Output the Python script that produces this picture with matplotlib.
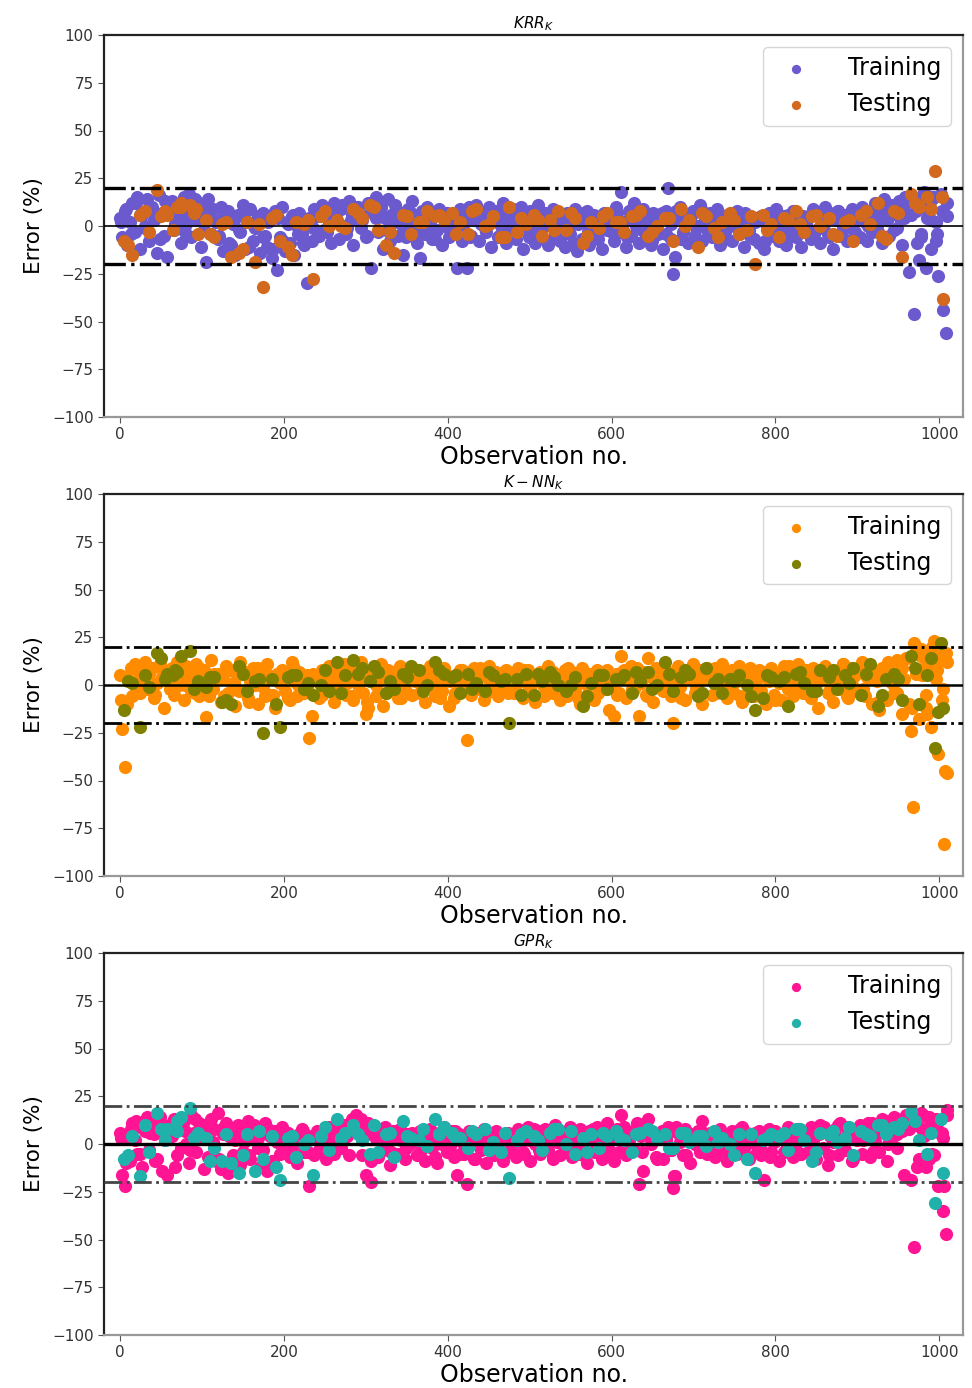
import numpy as np
import matplotlib
matplotlib.use("Agg")
import matplotlib.pyplot as plt

# ---- data: prediction error (%) per observation ----
# *_train   : every 3rd observation (0, 3, 6, ... 1008)
# *_train_b : every 6th observation starting at 1 (1, 7, ... 1009)
# *_test    : every 10th observation (5, 15, ... 1005)
# *_test_b  : every 20th observation (10, 30, ... 990)
# *_x_obs / *_x_err : a few extra points (outliers, dense spots)

krr_train = [
    4, -6, 8, -10, 2, 12, -3, 15, -12, 6, 0, 14, -8, 10, 3, -14, 16, 7, -5, -16,
    9, 13, -2, 11, 5, -9, 15, 1, 17, -6, 10, 3, 12, -11, 7, -19, 14, -4, 9, 2,
    -7, 10, -13, 4, 8, -10, 1, -15, 6, -3, 11, -12, 2, 9, -8, -1, 5, -14, 7, -5,
    -11, 3, -17, 8, -23, -6, 10, -13, 2, -9, 5, -15, 0, 7, -4, -10, -30, 4, -8, 9,
    6, -5, 11, -2, 8, 1, -9, 12, 4, -7, 9, 0, -4, 13, 3, -10, 7, 10, -1, 5,
    -6, 12, -22, 8, 15, -3, 10, -12, 4, 14, -8, 2, 11, -5, 7, -15, 0, 9, -2, 13,
    3, -9, -17, 8, -4, 10, 1, -7, 6, -2, 9, -10, 4, 7, -6, 2, 5, -22, 0, -8,
    7, -22, 10, -5, 3, 11, -8, 1, 6, -3, 9, -11, 4, 8, -6, 0, 12, -9, 5, -2,
    9, -7, 2, 10, -12, 5, -3, 8, 0, -9, 11, -5, 4, 7, -10, 1, 9, -4, 6, -8,
    3, -11, 7, -4, 1, 9, -13, 5, -7, 2, 8, -10, 0, 6, -5, 4, -12, 7, -2, 3,
    6, -8, 10, -3, 18, 2, -11, 8, -5, 12, 0, -9, 4, 9, -6, 1, -10, 7, 3, -4,
    5, -12, 8, 20, -7, -25, -16, 4, 10, -3, 6, -9, 2, 8, -5, 0, 11, -8, 3, -2,
    7, -6, 2, 9, -10, 4, -3, 6, 0, -8, 5, 8, -4, 1, -11, 6, -2, 3, -7, 4,
    -9, 5, -12, 1, 7, -5, 3, 9, -8, 0, 4, -10, 6, -3, 8, -6, 2, -11, 5, 1,
    4, -7, 9, -2, 6, -9, 1, 10, -4, 7, -12, 3, 8, -5, 0, 6, -8, 2, 9, -3,
    5, -6, 10, 2, -8, 8, -3, 12, 0, 6, -9, 14, 3, -5, 11, -2, 7, 13, -10, 4,
    12, -24, 16, -46, 8, 14, -6, 18, -22, 10, 3, 15, -8, -26, 17, -44, -56,
]
krr_train_b = [
    2, 9, -4, 12, 6, -1, 10, 4, -7, 13, 8, 1, 11, -3, 7, 14, 5, -2, 10, 3,
    -5, 6, -9, 3, -2, 7, -11, 0, 5, -6, 2, -12, 4, -8, 1, 6, -4, -9, 3, -1,
    5, 9, -3, 7, 2, 11, -1, 6, 10, 3, -5, 8, 4, 12, -2, 6, 9, 1, -6, 7,
    1, -4, 6, 3, -7, 8, 0, 5, -3, 9, 2, -6, 7, 4, -1, 10, 3, -5, 6, 1,
    4, -2, 7, -6, 3, 8, 0, -8, 5, 2, -4, 6, -9, 1, 7, -3, 4, -7, 2, 5,
    -3, 7, 1, -6, 9, 4, -2, 6, -8, 3, 7, -4, 1, 8, -7, 3, 5, -1, 9, 2,
    -4, 5, 1, -7, 6, 3, -2, 7, -5, 2, 4, -8, 6, 0, -3, 5, -6, 8, 1, -2,
    5, -4, 7, 1, -6, 4, 8, -2, 6, -7, 3, 9, 0, 5, -3, 10, 4, 8, -1, 11,
    6, 13, -9, 10, 4, 15, -4, 8, 12,
]
krr_train_x_obs = [944, 952, 958, 965, 972, 978, 986, 991, 996, 1004, 1010, 975, 990]
krr_train_x_err = [10, 4, 15, 6, 12, -4, 9, 14, 2, 8, 5, -18, -12]

krr_test = [
    -8, -15, 6, -3, 19, 8, -2, 10, 11, -4, 3, -6, 1, -16, -14, 2, -19, -32, 4, -8,
    -11, 2, 1, -28, 5, 0, 3, -1, 9, 4, 11, -2, -10, -14, 6, -4, 2, 8, 5, 3,
    7, 2, -4, 9, 0, 5, -6, 10, -3, 1, 6, -5, 3, 8, -2, 4, -9, 2, -1, 7,
    2, -3, 5, 8, -5, 0, 4, -8, 9, 3, -11, 5, -1, 2, 7, -4, -2, -20, 6, 1,
    -6, 3, 8, -3, 5, 0, 4, -5, 2, -8, 6, 1, 12, -7, 8, -16, 17, 10, 15, 29, -38,
]
krr_test_b = [
    -10, 8, 5, 10, 7, -4, 2, -12, 1, 6, -15, 3, 8, 0, 7, 10, -3, 5, 2, 6,
    -4, 8, 1, -6, 4, 3, -2, 7, -5, 5, 2, 6, -3, 4, 0, 7, -6, 3, 5, -2,
    4, 1, 6, -4, 3, 8, -5, 7, 12, 9,
]
krr_test_x_obs = [58, 75, 93, 1003]
krr_test_x_err = [6, 12, 9, 15]

knn_train = [
    5, -23, -43, -10, 2, -6, 11, 8, -4, 3, 12, -2, 6, 9, -7, 1, 10, 4, -12, 7,
    3, 9, -5, 12, 0, 6, -8, 10, 2, -3, 7, 11, -6, 4, 8, -17, 1, 13, -2, 5,
    6, -9, 3, 10, -4, 8, 1, -11, 5, 12, -3, 7, -7, 2, 9, 0, -10, 4, 8, -6,
    11, -5, 3, -12, 6, 1, 8, -3, 4, -8, 12, 2, -6, 7, 0, -4, 5, -28, -16, 3,
    4, -7, 8, 1, -3, 10, 5, -9, 2, 7, -1, 11, -5, 3, 6, -8, 9, 0, 12, -4,
    -15, -12, 6, 9, -6, 2, 11, -11, 4, 8, -3, 1, 7, -7, 10, 3, -2, 5, 9, -5,
    2, 8, -4, 6, -9, 1, 10, 4, -6, 7, 0, -3, 9, 5, -11, 3, -7, 6, 1, 8,
    3, -29, 7, -5, 9, 1, -2, 6, -8, 4, 10, -3, 2, 7, -6, 5, 0, 8, -4, 3,
    6, -3, 9, 2, -7, 4, 8, -1, 5, -9, 3, 7, 0, -5, 10, 2, -4, 6, 1, -8,
    4, 8, -6, 2, 7, -3, 5, -10, 9, 1, -5, 6, 3, -8, 8, 0, 4, -2, 7, -13,
    2, -16, 6, -4, 15, 8, -7, 3, 10, -2, 5, -16, 1, 7, -5, 14, 4, -9, 9, 0,
    6, -3, 8, 2, -6, -20, 4, 10, -1, 5, -8, 7, 3, 11, -4, 1, 8, -10, 5, 9,
    3, -5, 9, 6, -2, 11, 0, -7, 5, 8, -4, 2, 10, -9, 4, 7, -1, 6, -6, 3,
    8, -3, 5, -10, 2, 9, -5, 6, 1, -8, 10, 4, -2, 7, -6, 3, 11, 0, -4, 8,
    5, -7, 9, 2, -12, 6, 3, 10, -4, 7, -9, 1, 8, -2, 11, 4, -6, 9, 0, 5,
    -3, 8, 12, -6, 4, 10, -10, 6, 2, -13, 9, 5, -8, 11, 1, -4, 13, 7, -15, 3,
    14, -10, -24, 22, 6, -18, 19, 9, -5, 12, -22, 23, 3, -36, 15, -2, 17,
]
knn_train_b = [
    -8, 4, 9, -3, 6, 1, 8, -5, 11, 3, -2, 7, 10, 0, 5, -4, 9, 2, -6, 6,
    3, -6, 8, 1, -3, 6, -9, 4, 9, -1, 5, -5, 2, 7, -7, 10, 0, 4, -3, 6,
    2, -5, 7, 4, -2, 9, 1, -6, 6, 3, -9, 8, 0, 5, -4, 7, 2, -7, 4, 8,
    5, -3, 7, 0, 4, -7, 6, 2, -4, 8, 1, -2, 5, 9, -5, 3, 6, -1, 7, 2,
    -4, 5, 8, -2, 3, 6, -6, 1, 7, 4, -3, 9, 2, -7, 5, 0, 6, -4, 3, 8,
    1, -5, 7, 4, -2, 9, 3, -6, 5, 0, 8, -3, 6, 2, -7, 4, 9, -1, 5, 3,
    6, -4, 2, 8, -1, 5, -6, 3, 9, 0, -3, 7, 4, -8, 6, 1, 10, -2, 5, 3,
    -5, 7, 2, 9, -3, 6, 0, 11, -7, 4, 8, -2, 10, 3, -9, 6, 12, 1, -4, 9,
    14, -12, 18, 5, -15, 20, 8, -8, 12,
]
knn_train_x_obs = [968, 1006, 1007, 1010, 972, 978, 984, 1004, 995, 987]
knn_train_x_err = [-64, -83, -45, -46, 20, 15, -12, 16, 10, 18]

knn_test = [
    -13, 1, -22, -1, 17, 3, 5, 15, 18, 2, -1, 4, -9, -10, 10, -3, 2, -25, 3, -22,
    4, 5, -2, -5, 0, -3, 12, 5, 13, 9, 2, 7, -4, -2, 6, 10, 8, 0, 12, 6,
    4, -4, 6, 1, -3, 5, 2, -20, 3, 6, -5, 2, 7, 0, -3, 4, -11, 1, 5, -2,
    3, 5, -4, 2, 7, 0, 12, -3, 4, 6, -6, 9, 1, -4, 3, 5, 0, -13, -7, 4,
    2, -11, 6, 1, -3, 8, 4, -2, 5, 9, -5, 11, -11, 3, 6, -8, 15, -10, 5, -33, -12,
]
knn_test_b = [
    2, 5, 14, 7, -2, 4, -8, 6, 3, -10, 5, 1, 8, -4, 6, 10, 2, 4, -3, 8,
    5, -2, 7, 3, -5, 6, 4, 0, -6, 5, 3, 7, -2, 6, 8, -4, 3, 2, -6, 5,
    4, 7, -3, 8, 1, 6, -5, 3, 9, 14,
]
knn_test_x_obs = [1002, 998, 57, 67]
knn_test_x_err = [22, -14, 6, 8]

gpr_train = [
    6, -16, -22, 3, -9, 11, 2, -5, 9, -12, 7, 14, -3, 10, 5, -8, 12, -14, 8, -16,
    10, 4, 13, -6, 8, -2, 12, 0, -10, 15, 6, -4, 11, 3, -13, 9, -7, 13, 1, -9,
    16, -13, 5, 11, -15, 8, -6, 2, 10, -11, -4, 7, 12, -8, 3, 9, -2, -12, 6, 11,
    -14, 4, -9, 7, 1, -5, 9, -2, 6, -7, 3, 0, -10, 5, 8, -4, 2, -22, 4, -6,
    7, -3, 5, 1, -8, 9, 3, -5, 6, 0, -2, 10, 4, -6, 8, 12, 15, 9, 13, 6,
    -16, 11, -20, 8, 3, -7, 6, -3, 9, 1, -11, 7, 4, -5, 8, 2, -8, 5, 0, 6,
    3, -6, 7, 1, -9, 5, 8, -2, 4, -10, 6, 0, 9, -4, 2, 7, -7, -16, 5, 1,
    -5, -21, 7, 3, -8, 6, 1, -3, 8, -10, 4, 2, -6, 7, 0, 5, -9, 3, 6, -2,
    4, -7, 8, 1, -4, 6, 9, -9, 3, 0, 7, -5, 2, 8, -3, 5, -8, 10, 1, -6,
    6, -2, 4, 9, -7, 3, -5, 8, 0, 5, -10, 7, 2, -4, 9, 1, -8, 6, 11, -3,
    3, -9, 7, -4, 15, 9, -6, 2, 5, -3, 8, -21, 4, -14, 10, 13, 0, 6, -7, 3,
    5, -8, 2, 9, -3, -23, -17, 6, 1, -6, 8, 3, -10, 5, 0, 7, -4, 12, 2, -5,
    6, 1, -7, 4, 8, -3, 2, -9, 5, 7, 0, -5, 3, 9, -2, 6, -8, 1, 4, -4,
    7, -6, -19, 3, 8, -4, 1, 6, -9, 4, 2, -3, 9, 5, -7, 0, 8, -5, 3, 6,
    -4, 9, 2, -8, 6, 10, -2, 7, -11, 4, 1, 8, -6, 11, 3, -3, 9, 5, -9, 7,
    2, 10, -5, 8, 4, -7, 11, 1, 9, -4, 13, 6, -9, 12, 3, 14, -2, 10, 7, -16,
    15, 8, -19, -54, 12, -8, 16, 4, -12, 14, 10, -6, 13, -22, 5, -35, -47,
]
gpr_train_b = [
    3, -10, 8, 12, -5, 10, 6, -9, 14, 2, 9, -12, 11, 7, -3, 13, 5, 10, -7, 8,
    -8, 9, 4, -12, 7, 1, -6, 10, 3, -3, 8, -9, 5, 0, 6, -5, 2, 7, -4, 3,
    6, -4, 2, 8, -1, 10, 4, 13, 7, -6, 5, -9, 3, 8, 1, -4, 7, 2, -2, 5,
    4, -3, 6, 1, -7, 5, 2, -1, 7, -5, 3, 6, -8, 4, 1, -3, 6, 2, -6, 5,
    3, 6, -5, 2, 8, -3, 5, 0, -7, 6, 3, -2, 7, 1, -6, 4, 8, -4, 2, 6,
    -5, 8, 3, -2, 6, 11, -4, 5, 1, -8, 7, 4, -3, 9, 2, -6, 5, 0, 7, -2,
    4, -5, 7, 1, -3, 5, 8, -6, 2, 6, -2, 4, -7, 7, 3, -4, 8, 1, -5, 6,
    7, -3, 5, 9, -6, 3, 10, -1, 6, -8, 8, 2, 11, -4, 7, 12, 0, 9, 5, 13,
    10, 16, -12, 8, 14, -5, 11, 6, 15,
]
gpr_train_x_obs = [1010, 972, 980, 988, 994, 1004, 676, 1006]
gpr_train_x_err = [18, 10, 15, -8, 12, 3, -17, -22]

gpr_test = [
    -8, 4, -17, -4, 16, 2, 8, 14, 19, 6, 3, -2, -9, -10, -15, 5, -14, -8, 4, -19,
    3, -7, 0, -16, 4, -3, 13, 6, 10, 2, -5, -4, 5, -7, 12, 3, 2, -1, 13, 9,
    6, 3, -2, 5, 8, 1, -4, -18, 2, 7, 4, -3, 6, 8, 0, -5, 3, 5, -2, 4,
    7, 2, -4, 6, 8, 3, 5, -2, 6, 1, 4, -1, 7, 3, 0, 5, -8, -15, 2, 5,
    4, -3, 8, 2, -9, 6, 5, 1, 3, -6, 7, 4, 10, 5, 9, 11, 17, 2, -5, -31, -15,
]
gpr_test_b = [
    -6, 10, 8, 12, 3, -9, 5, -6, 7, -12, 4, 2, 9, 3, 5, 10, 6, 4, 8, 5,
    3, 7, -3, 6, 5, 2, 8, 7, -4, 6, 3, 5, 7, -2, 6, 4, 1, -6, 5, 3,
    6, 8, -4, 7, 9, 5, 10, 8, 12, 6,
]
gpr_test_x_obs = [1002, 57, 70]
gpr_test_x_err = [13, 8, 7]

panels = [
    dict(title=r"$KRR_K$", train=krr_train, train_b=krr_train_b,
         train_xo=krr_train_x_obs, train_xe=krr_train_x_err,
         test=krr_test, test_b=krr_test_b, test_xo=krr_test_x_obs, test_xe=krr_test_x_err,
         c_train="#6A5ACD", c_test="#D2691E", zlw=1.2, dlw=2.4, dcol="black"),
    dict(title=r"$K-NN_K$", train=knn_train, train_b=knn_train_b,
         train_xo=knn_train_x_obs, train_xe=knn_train_x_err,
         test=knn_test, test_b=knn_test_b, test_xo=knn_test_x_obs, test_xe=knn_test_x_err,
         c_train="#FF8C00", c_test="#808000", zlw=1.8, dlw=2.0, dcol="black"),
    dict(title=r"$GPR_K$", train=gpr_train, train_b=gpr_train_b,
         train_xo=gpr_train_x_obs, train_xe=gpr_train_x_err,
         test=gpr_test, test_b=gpr_test_b, test_xo=gpr_test_x_obs, test_xe=gpr_test_x_err,
         c_train="#FF1493", c_test="#20B2AA", zlw=2.4, dlw=2.0, dcol="#444444"),
]

fig = plt.figure(figsize=(9.72, 13.88), dpi=100)
tops = [35, 494, 953]
W, H = 972.0, 1388.0

for p, top in zip(panels, tops):
    ax = fig.add_axes([104 / W, 1 - (top + 382) / H, 859 / W, 382 / H])

    tr_obs = np.concatenate([np.arange(len(p["train"])) * 3,
                             1 + np.arange(len(p["train_b"])) * 6, p["train_xo"]])
    tr_err = np.concatenate([p["train"], p["train_b"], p["train_xe"]])
    te_obs = np.concatenate([5 + np.arange(len(p["test"])) * 10,
                             10 + np.arange(len(p["test_b"])) * 20, p["test_xo"]])
    te_err = np.concatenate([p["test"], p["test_b"], p["test_xe"]])

    ax.scatter(tr_obs, tr_err, s=90, color=p["c_train"], linewidths=0, label="Training", zorder=2)
    ax.scatter(te_obs, te_err, s=90, color=p["c_test"], linewidths=0, label="Testing", zorder=3)

    ax.axhline(0, color="black", lw=p["zlw"], zorder=4)
    ax.axhline(20, color=p["dcol"], lw=p["dlw"], ls="-.", zorder=4)
    ax.axhline(-20, color=p["dcol"], lw=p["dlw"], ls="-.", zorder=4)

    ax.set_xlim(-19.5, 1029)
    ax.set_ylim(-100, 100)
    ax.set_yticks([-100, -75, -50, -25, 0, 25, 50, 75, 100])
    ax.set_xticks([0, 200, 400, 600, 800, 1000])
    ax.tick_params(labelsize=11, labelcolor="#333333", color="#555555", length=4)

    for side in ["left", "top"]:
        ax.spines[side].set_color("#222222")
        ax.spines[side].set_linewidth(1.6)
    for side in ["right", "bottom"]:
        ax.spines[side].set_color("#999999")
        ax.spines[side].set_linewidth(1.6)

    ax.set_title(p["title"], fontsize=11, pad=5)
    ax.set_xlabel("Observation no.", fontsize=17, labelpad=2)
    ax.set_ylabel("Error (%)", fontsize=15.5, labelpad=6)

    leg = ax.legend(loc="upper right", fontsize=17, handletextpad=1.2, markerscale=0.7,
                    borderaxespad=0.5, fancybox=True)
    leg.get_frame().set_edgecolor("#cccccc")

fig.savefig("out.png", dpi=100)
